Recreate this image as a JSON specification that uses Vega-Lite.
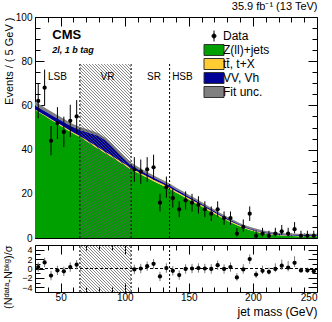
{
  "$schema": "https://vega.github.io/schema/vega-lite/v6.json",
  "autosize": {"type": "pad"},
  "padding": {"left": 2, "top": 0, "right": 17, "bottom": 5},
  "bounds": "flush",
  "spacing": 7,
  "config": {
    "font": "Liberation Sans",
    "view": {"stroke": "black", "strokeWidth": 1},
    "axis": {"grid": false, "domain": false, "labelFont": "Liberation Sans", "labelFontSize": 10, "labelColor": "black", "labelOverlap": false, "tickColor": "black", "tickWidth": 1, "titleFont": "Liberation Sans", "titleFontWeight": "normal", "titleFontSize": 11, "titleColor": "black"}
  },
  "datasets": {
    "bkg": [
      {"m":30,"z":58,"t":58.3,"v":60,"u":61.6},
      {"m":35,"z":56.2,"t":56.5,"v":58.3,"u":59.9},
      {"m":40,"z":54.4,"t":54.7,"v":56.6,"u":58.2},
      {"m":45,"z":52.6,"t":52.9,"v":54.9,"u":56.4},
      {"m":50,"z":50.8,"t":51.2,"v":53.3,"u":54.8},
      {"m":55,"z":49,"t":49.4,"v":51.6,"u":53.1},
      {"m":60,"z":47.3,"t":47.7,"v":50.1,"u":51.5},
      {"m":65,"z":45.7,"t":46.1,"v":48.9,"u":50.3},
      {"m":70,"z":43.9,"t":44.4,"v":48,"u":49.3},
      {"m":75,"z":42,"t":42.5,"v":47.1,"u":48.4},
      {"m":80,"z":40.2,"t":40.7,"v":46,"u":47.3},
      {"m":85,"z":38.4,"t":38.9,"v":44.1,"u":45.3},
      {"m":90,"z":36.6,"t":37.2,"v":41.5,"u":42.7},
      {"m":95,"z":34.7,"t":35.3,"v":38.4,"u":39.6},
      {"m":100,"z":32.9,"t":33.5,"v":35.5,"u":36.6},
      {"m":105,"z":31,"t":31.6,"v":33,"u":34.1},
      {"m":110,"z":29.5,"t":30.1,"v":31.2,"u":32.3},
      {"m":115,"z":28,"t":28.6,"v":29.6,"u":30.6},
      {"m":120,"z":26.5,"t":27.2,"v":28.1,"u":29.1},
      {"m":125,"z":25,"t":25.7,"v":26.6,"u":27.6},
      {"m":130,"z":23.6,"t":24.3,"v":25.1,"u":26.1},
      {"m":135,"z":22.2,"t":22.9,"v":23.7,"u":24.7},
      {"m":140,"z":20.6,"t":21.2,"v":22,"u":22.9},
      {"m":145,"z":19,"t":19.6,"v":20.4,"u":21.3},
      {"m":150,"z":17.4,"t":18,"v":18.7,"u":19.6},
      {"m":155,"z":15.8,"t":16.4,"v":17.1,"u":18},
      {"m":160,"z":14.2,"t":14.8,"v":15.4,"u":16.3},
      {"m":165,"z":12.6,"t":13.1,"v":13.7,"u":14.5},
      {"m":170,"z":11,"t":11.5,"v":12.1,"u":12.9},
      {"m":175,"z":9.4,"t":9.9,"v":10.4,"u":11.2},
      {"m":180,"z":7.9,"t":8.3,"v":8.8,"u":9.6},
      {"m":185,"z":6.5,"t":6.9,"v":7.4,"u":8.2},
      {"m":190,"z":5.2,"t":5.6,"v":6,"u":6.7},
      {"m":195,"z":4.1,"t":4.4,"v":4.8,"u":5.5},
      {"m":200,"z":3.2,"t":3.5,"v":3.9,"u":4.6},
      {"m":205,"z":2.5,"t":2.8,"v":3.1,"u":3.8},
      {"m":210,"z":1.9,"t":2.1,"v":2.5,"u":3.2},
      {"m":215,"z":1.5,"t":1.7,"v":2,"u":2.7},
      {"m":220,"z":1.2,"t":1.4,"v":1.7,"u":2.4},
      {"m":225,"z":1,"t":1.2,"v":1.5,"u":2.2},
      {"m":230,"z":0.9,"t":1,"v":1.3,"u":2},
      {"m":235,"z":0.8,"t":0.9,"v":1.2,"u":1.9},
      {"m":240,"z":0.8,"t":0.9,"v":1.2,"u":1.9},
      {"m":245,"z":0.8,"t":0.9,"v":1.2,"u":1.9},
      {"m":250,"z":0.8,"t":0.9,"v":1.2,"u":1.9}
    ],
    "obs": [
      {"m":32.5,"n":62,"lo":54.1,"hi":69.9,"p":0.3,"pl":-0.7,"ph":1.3},
      {"m":37.5,"n":68,"lo":59.8,"hi":76.2,"p":1.3,"pl":0.3,"ph":2.3},
      {"m":42.5,"n":44,"lo":37.4,"hi":50.6,"p":-1.5,"pl":-2.5,"ph":-0.5},
      {"m":47.5,"n":52,"lo":44.8,"hi":59.2,"p":-0.4,"pl":-1.4,"ph":0.6},
      {"m":52.5,"n":48,"lo":41.1,"hi":54.9,"p":-0.6,"pl":-1.6,"ph":0.4},
      {"m":57.5,"n":53,"lo":45.7,"hi":60.3,"p":0.3,"pl":-0.7,"ph":1.3},
      {"m":62.5,"n":55,"lo":47.6,"hi":62.4,"p":0.8,"pl":-0.2,"ph":1.8},
      {"m":107.5,"n":31,"lo":25.4,"hi":36.6,"p":-0.2,"pl":-1.2,"ph":0.8},
      {"m":112.5,"n":30,"lo":24.5,"hi":35.5,"p":0,"pl":-1,"ph":1},
      {"m":117.5,"n":31,"lo":25.4,"hi":36.6,"p":0.5,"pl":-0.5,"ph":1.5},
      {"m":122.5,"n":32,"lo":26.3,"hi":37.7,"p":1,"pl":0,"ph":2},
      {"m":127.5,"n":16,"lo":12,"hi":20,"p":-1.7,"pl":-2.7,"ph":-0.7},
      {"m":132.5,"n":23,"lo":18.2,"hi":27.8,"p":0.1,"pl":-0.9,"ph":1.1},
      {"m":137.5,"n":18,"lo":13.8,"hi":22.2,"p":-0.5,"pl":-1.5,"ph":0.5},
      {"m":142.5,"n":13,"lo":9.4,"hi":16.6,"p":-1.4,"pl":-2.4,"ph":-0.4},
      {"m":147.5,"n":17,"lo":12.9,"hi":21.1,"p":-0.1,"pl":-1.1,"ph":0.9},
      {"m":152.5,"n":16,"lo":12,"hi":20,"p":0,"pl":-1,"ph":1},
      {"m":157.5,"n":15,"lo":11.1,"hi":18.9,"p":0.1,"pl":-0.9,"ph":1.1},
      {"m":162.5,"n":13,"lo":9.4,"hi":16.6,"p":0,"pl":-1,"ph":1},
      {"m":167.5,"n":11,"lo":7.7,"hi":14.3,"p":-0.1,"pl":-1.1,"ph":0.9},
      {"m":172.5,"n":13,"lo":9.4,"hi":16.6,"p":0.7,"pl":-0.3,"ph":1.7},
      {"m":177.5,"n":9,"lo":6,"hi":12,"p":-0.1,"pl":-1.1,"ph":0.9},
      {"m":182.5,"n":9,"lo":6,"hi":12,"p":0.3,"pl":-0.7,"ph":1.3},
      {"m":187.5,"n":2,"lo":0.7,"hi":4.6,"p":-1.9,"pl":-2.6,"ph":-1},
      {"m":192.5,"n":5,"lo":2.8,"hi":8.4,"p":-0.2,"pl":-1.1,"ph":0.9},
      {"m":197.5,"n":11,"lo":7.7,"hi":14.3,"p":2,"pl":1,"ph":3},
      {"m":202.5,"n":1,"lo":0.2,"hi":3.3,"p":-1.3,"pl":-2,"ph":-0.5},
      {"m":207.5,"n":2,"lo":0.7,"hi":4.6,"p":-0.5,"pl":-1.2,"ph":0.6},
      {"m":212.5,"n":1,"lo":0.2,"hi":3.3,"p":-0.7,"pl":-1.3,"ph":0.2},
      {"m":217.5,"n":2,"lo":0.7,"hi":4.6,"p":-0.1,"pl":-0.8,"ph":1.1},
      {"m":222.5,"n":3,"lo":1.4,"hi":5.9,"p":0.6,"pl":-0.3,"ph":1.9},
      {"m":227.5,"n":2,"lo":0.7,"hi":4.6,"p":0.2,"pl":-0.6,"ph":1.6},
      {"m":232.5,"n":4,"lo":2.1,"hi":7.2,"p":1.2,"pl":0.3,"ph":2.6},
      {"m":237.5,"n":1,"lo":0.2,"hi":3.3,"p":-0.4,"pl":-0.9,"ph":0.2},
      {"m":242.5,"n":1,"lo":0.2,"hi":3.3,"p":-0.4,"pl":-0.9,"ph":0.2},
      {"m":247.5,"n":1,"lo":0.2,"hi":3.3,"p":-0.6,"pl":-1.1,"ph":0}
    ],
    "edges": [{"b":65},{"b":105},{"b":135}],
    "regions": [{"x":47.5,"s":"LSB"},{"x":86.5,"s":"VR"},{"x":122.8,"s":"SR"},{"x":145,"s":"HSB"}]
  },
  "vconcat": [
    {
      "width": 282,
      "height": 221,
      "title": {"text": "35.9 fb⁻¹ (13 TeV)", "anchor": "end", "fontSize": 11, "fontWeight": "normal", "font": "Liberation Sans", "offset": 0, "color": "black"},
      "layer": [
        {
          "data": {"name": "bkg"},
          "mark": {"type": "area", "opacity": 1},
          "encoding": {
            "x": {"field": "m", "type": "quantitative", "scale": {"domain": [30, 250], "nice": false, "zero": false},
                  "axis": {"orient": "top", "labels": false, "title": null, "values": [30,40,50,60,70,80,90,100,110,120,130,140,150,160,170,180,190,200,210,220,230,240,250], "tickSize": {"condition": {"test": "datum.value % 50 === 0", "value": -9}, "value": -5}}},
            "y": {"field": "u", "type": "quantitative", "scale": {"domain": [0, 100], "nice": false},
                  "axis": {"orient": "right", "labels": false, "title": null, "values": [0,5,10,15,20,25,30,35,40,45,50,55,60,65,70,75,80,85,90,95,100], "tickSize": {"condition": {"test": "datum.value % 20 === 0", "value": -9}, "value": -5}}},
            "y2": {"field": "v"},
            "color": {"datum": "Fit unc.",
              "scale": {"domain": ["Data", "Z(ll)+jets", "tt̄, t+X", "VV, Vh", "Fit unc."], "range": ["black", "#00a000", "#ffcc33", "#000099", "#808080"]},
              "legend": {"orient": "none", "legendX": 173, "legendY": 13, "title": null, "labelFontSize": 12, "labelFont": "Liberation Sans", "labelColor": "black", "symbolSize": 100, "labelOffset": 3, "rowPadding": -4, "symbolStrokeWidth": 1, "symbolOpacity": 1,
                "encode": {"symbols": {"update": {
                  "shape": [{"test": "datum.value === 'Data'", "value": "M0,-1.1V1.1M-0.4,0A0.4,0.4 0 1,0 0.4,0A0.4,0.4 0 1,0 -0.4,0"}, {"value": "M-2,-1.1H2V1.1H-2Z"}],
                  "stroke": [{"test": "datum.value === 'Data'", "value": "black"}, {"value": "#333"}],
                  "strokeWidth": {"value": 1},
                  "opacity": {"value": 1}
                }}}}
            }
          }
        },
        {
          "data": {"name": "bkg"},
          "mark": {"type": "area", "opacity": 1},
          "encoding": {
            "x": {"field": "m", "type": "quantitative",
                  "axis": {"orient": "bottom", "labels": false, "title": null, "values": [30,40,50,60,70,80,90,100,110,120,130,140,150,160,170,180,190,200,210,220,230,240,250], "tickSize": {"condition": {"test": "datum.value % 50 === 0", "value": -9}, "value": -5}}},
            "y": {"field": "z", "type": "quantitative",
                  "axis": {"orient": "left", "title": "Events / ( 5 GeV )", "titleAnchor": "end", "titlePadding": 1, "labelPadding": 12, "values": [0,5,10,15,20,25,30,35,40,45,50,55,60,65,70,75,80,85,90,95,100], "labelExpr": "datum.value % 20 === 0 ? datum.label : ''", "tickSize": {"condition": {"test": "datum.value % 20 === 0", "value": -9}, "value": -5}}},
            "y2": {"datum": 0},
            "color": {"datum": "Z(ll)+jets"}
          }
        },
        {
          "data": {"name": "bkg"},
          "mark": {"type": "area", "opacity": 1},
          "encoding": {
            "x": {"field": "m", "type": "quantitative", "axis": null},
            "y": {"field": "t", "type": "quantitative", "axis": null},
            "y2": {"field": "z"},
            "color": {"datum": "tt̄, t+X"}
          }
        },
        {
          "data": {"name": "bkg"},
          "mark": {"type": "area", "opacity": 1},
          "encoding": {
            "x": {"field": "m", "type": "quantitative", "axis": null},
            "y": {"field": "v", "type": "quantitative", "axis": null},
            "y2": {"field": "t"},
            "color": {"datum": "VV, Vh"}
          }
        },
        {
          "data": {"name": "edges"},
          "mark": {"type": "point", "filled": false, "stroke": "#555", "strokeWidth": 0.7, "opacity": 1, "size": 4,
            "shape": "M-25.5,84l3,3M-25.5,81l6,6M-25.5,78l9,9M-25.5,75l12,12M-25.5,72l15,15M-25.5,69l18,18M-25.5,66l21,21M-25.5,63l24,24M-25.5,60l27,27M-25.5,57l30,30M-25.5,54l33,33M-25.5,51l36,36M-25.5,48l39,39M-25.5,45l42,42M-25.5,42l45,45M-25.5,39l48,48M-25.5,36l51,51M-25.5,33l51,51M-25.5,30l51,51M-25.5,27l51,51M-25.5,24l51,51M-25.5,21l51,51M-25.5,18l51,51M-25.5,15l51,51M-25.5,12l51,51M-25.5,9l51,51M-25.5,6l51,51M-25.5,3l51,51M-25.5,0l51,51M-25.5,-3l51,51M-25.5,-6l51,51M-25.5,-9l51,51M-25.5,-12l51,51M-25.5,-15l51,51M-25.5,-18l51,51M-25.5,-21l51,51M-25.5,-24l51,51M-25.5,-27l51,51M-25.5,-30l51,51M-25.5,-33l51,51M-25.5,-36l51,51M-25.5,-39l51,51M-25.5,-42l51,51M-25.5,-45l51,51M-25.5,-48l51,51M-25.5,-51l51,51M-25.5,-54l51,51M-25.5,-57l51,51M-25.5,-60l51,51M-25.5,-63l51,51M-25.5,-66l51,51M-25.5,-69l51,51M-25.5,-72l51,51M-25.5,-75l51,51M-25.5,-78l51,51M-25.5,-81l51,51M-25.5,-84l51,51M-25.5,-87l51,51M-22.5,-87l48,48M-19.5,-87l45,45M-16.5,-87l42,42M-13.5,-87l39,39M-10.5,-87l36,36M-7.5,-87l33,33M-4.5,-87l30,30M-1.5,-87l27,27M1.5,-87l24,24M4.5,-87l21,21M7.5,-87l18,18M10.5,-87l15,15M13.5,-87l12,12M16.5,-87l9,9M19.5,-87l6,6M22.5,-87l3,3"},
          "transform": [{"filter": "datum.b === 65"}],
          "encoding": {
            "x": {"datum": 85, "type": "quantitative", "axis": null},
            "y": {"datum": 39.37, "type": "quantitative", "axis": null}
          }
        },
        {
          "data": {"name": "edges"},
          "mark": {"type": "rule", "color": "black", "strokeWidth": 1, "strokeDash": [2, 2]},
          "encoding": {
            "x": {"field": "b", "type": "quantitative", "axis": null},
            "y": {"datum": 0, "type": "quantitative", "axis": null},
            "y2": {"datum": 78.7}
          }
        },
        {
          "data": {"name": "regions"},
          "mark": {"type": "text", "fontSize": 10, "font": "Liberation Sans", "color": "black", "baseline": "alphabetic"},
          "encoding": {
            "x": {"field": "x", "type": "quantitative", "axis": null},
            "y": {"datum": 71.5, "type": "quantitative", "axis": null},
            "text": {"field": "s"}
          }
        },
        {
          "data": {"name": "edges"},
          "transform": [{"filter": "datum.b === 65"}],
          "mark": {"type": "text", "text": "CMS", "fontSize": 13, "fontWeight": "bold", "font": "Liberation Sans", "align": "left", "baseline": "alphabetic", "color": "black"},
          "encoding": {
            "x": {"datum": 43.5, "type": "quantitative", "axis": null},
            "y": {"datum": 90, "type": "quantitative", "axis": null}
          }
        },
        {
          "data": {"name": "edges"},
          "transform": [{"filter": "datum.b === 65"}],
          "mark": {"type": "text", "text": "2l, 1 b tag", "fontSize": 9, "fontWeight": "bold", "fontStyle": "italic", "font": "Liberation Sans", "align": "left", "baseline": "alphabetic", "color": "black"},
          "encoding": {
            "x": {"datum": 43.5, "type": "quantitative", "axis": null},
            "y": {"datum": 83.5, "type": "quantitative", "axis": null}
          }
        },
        {
          "data": {"name": "obs"},
          "mark": {"type": "rule", "color": "black", "strokeWidth": 1},
          "encoding": {
            "x": {"field": "m", "type": "quantitative", "axis": null},
            "y": {"field": "lo", "type": "quantitative", "axis": null},
            "y2": {"field": "hi"}
          }
        },
        {
          "data": {"name": "obs"},
          "mark": {"type": "point", "filled": true, "size": 18, "opacity": 1, "shape": "circle"},
          "encoding": {
            "x": {"field": "m", "type": "quantitative", "axis": null},
            "y": {"field": "n", "type": "quantitative", "axis": null},
            "color": {"datum": "Data"}
          }
        }
      ]
    },
    {
      "width": 282,
      "height": 47,
      "layer": [
        {
          "data": {"name": "edges"},
          "transform": [{"filter": "datum.b === 65"}],
          "mark": {"type": "point", "filled": false, "stroke": "#555", "strokeWidth": 0.7, "opacity": 1, "size": 4,
            "shape": "M-25.5,21.5l2,2M-25.5,18.5l5,5M-25.5,15.5l8,8M-25.5,12.5l11,11M-25.5,9.5l14,14M-25.5,6.5l17,17M-25.5,3.5l20,20M-25.5,0.5l23,23M-25.5,-2.5l26,26M-25.5,-5.5l29,29M-25.5,-8.5l32,32M-25.5,-11.5l35,35M-25.5,-14.5l38,38M-25.5,-17.5l41,41M-25.5,-20.5l44,44M-25.5,-23.5l47,47M-22.5,-23.5l47,47M-19.5,-23.5l45,45M-16.5,-23.5l42,42M-13.5,-23.5l39,39M-10.5,-23.5l36,36M-7.5,-23.5l33,33M-4.5,-23.5l30,30M-1.5,-23.5l27,27M1.5,-23.5l24,24M4.5,-23.5l21,21M7.5,-23.5l18,18M10.5,-23.5l15,15M13.5,-23.5l12,12M16.5,-23.5l9,9M19.5,-23.5l6,6M22.5,-23.5l3,3"},
          "encoding": {
            "x": {"datum": 85, "type": "quantitative", "scale": {"domain": [30, 250], "nice": false, "zero": false}, "axis": null},
            "y": {"datum": 0, "type": "quantitative", "scale": {"domain": [-5, 5], "nice": false}, "axis": null}
          }
        },
        {
          "data": {"name": "edges"},
          "mark": {"type": "rule", "color": "black", "strokeWidth": 1, "strokeDash": [2, 2]},
          "encoding": {
            "x": {"field": "b", "type": "quantitative", "axis": null},
            "y": {"datum": -5, "type": "quantitative", "axis": null},
            "y2": {"datum": 5}
          }
        },
        {
          "data": {"name": "edges"},
          "transform": [{"filter": "datum.b === 65"}],
          "mark": {"type": "rule", "color": "black", "strokeWidth": 1, "strokeDash": [3, 2]},
          "encoding": {
            "x": {"datum": 30, "type": "quantitative", "axis": null},
            "x2": {"datum": 250},
            "y": {"datum": 0, "type": "quantitative", "axis": null}
          }
        },
        {
          "data": {"name": "obs"},
          "mark": {"type": "rule", "color": "#777", "strokeWidth": 1},
          "encoding": {
            "x": {"field": "m", "type": "quantitative",
                  "axis": {"orient": "top", "labels": false, "title": null, "values": [30,40,50,60,70,80,90,100,110,120,130,140,150,160,170,180,190,200,210,220,230,240,250], "tickSize": {"condition": {"test": "datum.value % 50 === 0", "value": -9}, "value": -5}}},
            "y": {"field": "pl", "type": "quantitative",
                  "axis": {"orient": "right", "labels": false, "title": null, "values": [-4,-3,-2,-1,0,1,2,3,4], "tickSize": {"condition": {"test": "datum.value % 2 === 0", "value": -9}, "value": -5}}},
            "y2": {"field": "ph"}
          }
        },
        {
          "data": {"name": "obs"},
          "mark": {"type": "point", "filled": true, "size": 18, "opacity": 1, "shape": "circle", "color": "black"},
          "encoding": {
            "x": {"field": "m", "type": "quantitative",
                  "axis": {"orient": "bottom", "title": "jet mass (GeV)", "titleFontSize": 12, "titleAnchor": "end", "titlePadding": 0, "labelFontSize": 10, "labelPadding": 9, "values": [30,40,50,60,70,80,90,100,110,120,130,140,150,160,170,180,190,200,210,220,230,240,250], "labelExpr": "datum.value % 50 === 0 ? datum.label : ''", "tickSize": {"condition": {"test": "datum.value % 50 === 0", "value": -9}, "value": -5}}},
            "y": {"field": "p", "type": "quantitative",
                  "axis": {"orient": "left", "title": "(Nᵈᵃᵗᵃ-Nᵇᵏᵍ)/σ", "titleAnchor": "end", "titlePadding": 8, "labelPadding": 12, "labelFontSize": 9, "values": [-4,-3,-2,-1,0,1,2,3,4], "labelExpr": "datum.value % 2 === 0 ? datum.label : ''", "tickSize": {"condition": {"test": "datum.value % 2 === 0", "value": -9}, "value": -5}}}
          }
        }
      ]
    }
  ]
}
